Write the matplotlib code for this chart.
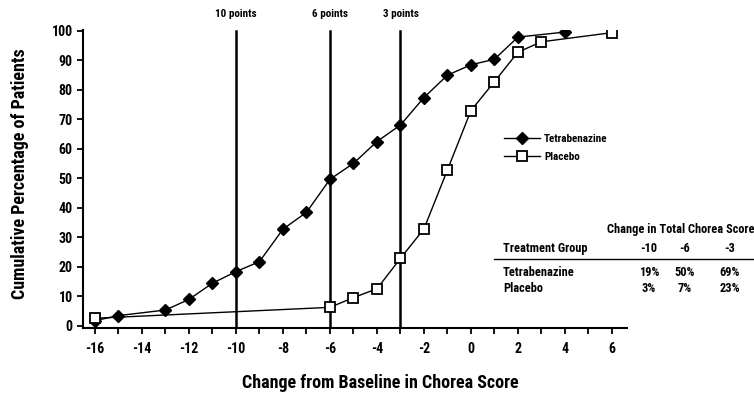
import numpy as np
import matplotlib
matplotlib.use("Agg")
import matplotlib.pyplot as plt
from matplotlib.lines import Line2D

plt.rcParams['font.family'] = ['Roboto Condensed', 'Liberation Sans Narrow', 'DejaVu Sans']
plt.rcParams['font.stretch'] = 'condensed'
plt.rcParams['font.weight'] = 'bold'
plt.rcParams['axes.unicode_minus'] = False

# Data
tbz_x = [-16, -15, -13, -12, -11, -10, -9, -8, -7, -6, -5, -4, -3, -2, -1, 0, 1, 2, 4]
tbz_y = [1.8, 3.5, 5.4, 9.0, 14.5, 18.4, 21.8, 32.8, 38.5, 49.7, 55.1, 62.5, 68.1, 77.4, 85.0, 88.5, 90.4, 97.9, 99.6]
pbo_x = [-16, -6, -5, -4, -3, -2, -1, 0, 1, 2, 3, 6]
pbo_y = [2.6, 6.3, 9.6, 12.6, 22.9, 32.9, 52.9, 73.0, 82.8, 92.8, 96.3, 99.4]

cutoffs = [-10, -6, -3]
cutoff_labels = ["10 points", "6 points", "3 points"]

table_cols = ["-10", "-6", "-3"]
table_rows = ["Tetrabenazine", "Placebo"]
table_vals = [["19%", "50%", "69%"], ["3%", "7%", "23%"]]

W, H = 754, 393
fig = plt.figure(figsize=(W / 100, H / 100), dpi=100)
ax = fig.add_axes([83 / W, 1 - 328 / H, (627 - 83) / W, (328 - 30) / H])

# threshold lines
for c, lab in zip(cutoffs, cutoff_labels):
    ax.plot([c, c], [0, 100], color='black', lw=1.8, zorder=1)
    ax.text(c, 104, lab, ha='center', va='bottom', fontsize=8, clip_on=False)

ax.plot(tbz_x, tbz_y, color='black', lw=1.0, marker='D', markersize=6.5,
        markerfacecolor='black', markeredgecolor='black', label='Tetrabenazine', zorder=3)
ax.plot(pbo_x, pbo_y, color='black', lw=1.0, marker='s', markersize=7,
        markerfacecolor='white', markeredgecolor='black', markeredgewidth=1.3,
        label='Placebo', zorder=3)

ax.set_xlim(-16.51, 6.64)
ax.set_ylim(-0.7, 100.3)
ax.set_xticks(np.arange(-16, 7, 2))
ax.set_xticks(np.arange(-16, 7, 1), minor=True)
ax.set_xticklabels([str(v) for v in range(-16, 7, 2)])
ax.set_yticks(np.arange(0, 101, 10))
ax.tick_params(axis='both', labelsize=10, width=1.3, length=4, direction='out')
ax.tick_params(axis='x', which='minor', width=1.3, length=4)
ax.tick_params(axis='x', pad=6)
for s in ['top', 'right']:
    ax.spines[s].set_visible(False)
for s in ['left', 'bottom']:
    ax.spines[s].set_linewidth(1.5)

fig.text(20 / W, 1 - 174 / H, "Cumulative Percentage of Patients", rotation=90,
         ha='center', va='center', fontsize=13)
fig.text(380 / W, 1 - 383 / H, "Change from Baseline in Chorea Score",
         ha='center', va='center', fontsize=13)

ax.legend(frameon=False, loc='upper left', bbox_to_anchor=(494 / W, 1 - 124 / H),
          bbox_transform=fig.transFigure, fontsize=8, handlelength=3.2,
          handletextpad=0.4, labelspacing=0.75)

# summary table
fs = 8.9
fig.text(681 / W, 1 - 229 / H, "Change in Total Chorea Score", ha='center', va='center', fontsize=fs)
fig.text(503 / W, 1 - 249 / H, "Treatment Group", ha='left', va='center', fontsize=fs)
col_x = [649, 685, 730]
for cx, cl in zip(col_x, table_cols):
    fig.text(cx / W, 1 - 249 / H, cl, ha='center', va='center', fontsize=fs)
fig.add_artist(Line2D([494 / W, 1.0], [1 - 259 / H, 1 - 259 / H], color='black', lw=1.0))
row_y = [272, 289]
for ry, rname, vals in zip(row_y, table_rows, table_vals):
    fig.text(503 / W, 1 - ry / H, rname, ha='left', va='center', fontsize=fs)
    for cx, v in zip(col_x, vals):
        fig.text(cx / W, 1 - ry / H, v, ha='center', va='center', fontsize=fs)

fig.savefig("out.png", dpi=100)
